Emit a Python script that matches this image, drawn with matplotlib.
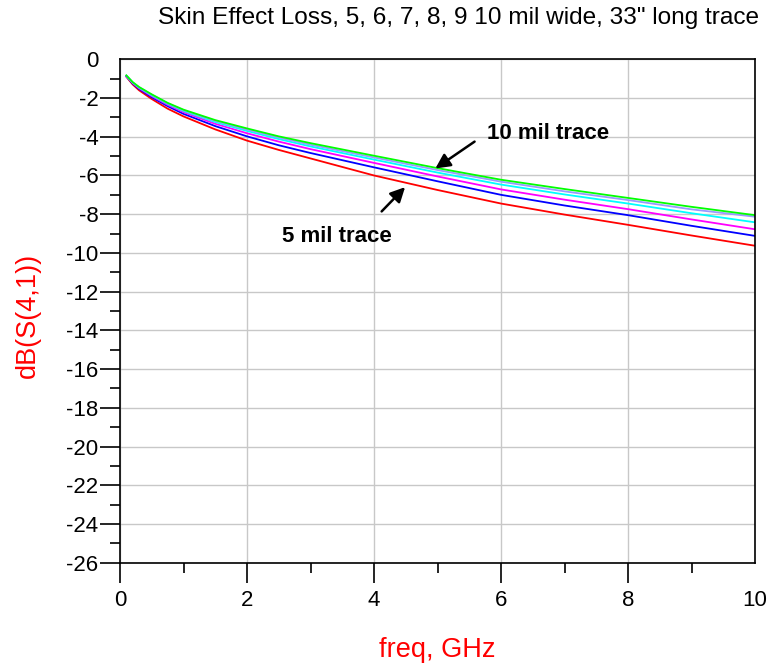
import matplotlib
matplotlib.use('Agg')
import matplotlib.pyplot as plt
from matplotlib.ticker import MultipleLocator

plt.rcParams['font.family'] = ['Liberation Sans', 'DejaVu Sans']

# frequency points (GHz) and loss (dB)
freq = [0.1, 0.2, 0.3, 0.5, 0.75, 1, 1.5, 2, 2.5, 3, 4, 5, 6, 7, 8, 9, 10]
loss_5mil = [-0.9, -1.3, -1.6, -2.05, -2.55, -2.95, -3.62, -4.2, -4.68, -5.12,
             -6.0, -6.75, -7.45, -8.02, -8.55, -9.1, -9.63]
loss_6mil = [-0.88, -1.25, -1.53, -1.96, -2.42, -2.82, -3.45, -3.98, -4.44, -4.84,
             -5.58, -6.3, -7.0, -7.55, -8.05, -8.6, -9.12]
loss_7mil = [-0.86, -1.22, -1.49, -1.9, -2.35, -2.73, -3.33, -3.82, -4.25, -4.64,
             -5.35, -6.05, -6.72, -7.25, -7.74, -8.27, -8.78]
loss_8mil = [-0.85, -1.2, -1.46, -1.86, -2.3, -2.67, -3.24, -3.7, -4.12, -4.5,
             -5.18, -5.85, -6.47, -6.98, -7.45, -7.95, -8.42]
loss_9mil = [-0.84, -1.19, -1.44, -1.83, -2.27, -2.63, -3.18, -3.63, -4.04, -4.41,
             -5.07, -5.72, -6.32, -6.82, -7.27, -7.75, -8.13]
loss_10mil = [-0.83, -1.18, -1.43, -1.81, -2.25, -2.6, -3.14, -3.57, -3.98, -4.33,
              -4.98, -5.62, -6.22, -6.7, -7.16, -7.62, -8.05]

series = [loss_5mil, loss_6mil, loss_7mil, loss_8mil, loss_9mil, loss_10mil]
colors = ['#ff0000', '#0000ff', '#ff00ff', '#00ffff', '#9999ff', '#00ff00']

fig = plt.figure(figsize=(7.7, 6.64), dpi=100)
ax = fig.add_axes([120/770, 1 - 562.7/664, 635/770, 503.4/664])

for vals, c in zip(series, colors):
    ax.plot(freq, vals, color=c, lw=1.3)

ax.set_xlim(0, 10)
ax.set_ylim(-26, 0)
ax.xaxis.set_major_locator(MultipleLocator(2))
ax.xaxis.set_minor_locator(MultipleLocator(1))
ax.yaxis.set_major_locator(MultipleLocator(2))
ax.yaxis.set_minor_locator(MultipleLocator(1))
ax.grid(True, which='major', color='#c8c8c8', lw=1)
ax.set_axisbelow(True)

ax.tick_params(which='major', direction='out', length=14.4, width=1.2,
               labelsize=16, colors='black')
ax.tick_params(axis='x', which='major', pad=5)
ax.tick_params(axis='y', which='major', pad=1)
ax.tick_params(which='minor', direction='out', length=7.2, width=1.2)
for sp in ax.spines.values():
    sp.set_linewidth(1.2)

fig.canvas.draw()
# no tick line at y=0 and x=10
for t in ax.yaxis.get_major_ticks():
    if abs(t.get_loc()) < 1e-6:
        t.tick1line.set_visible(False)
for t in ax.xaxis.get_major_ticks():
    if abs(t.get_loc() - 10) < 1e-6:
        t.tick1line.set_visible(False)
ax.set_yticklabels([f'{int(v)}' for v in ax.get_yticks()])

fig.text(458/770, 1 - 18/664,
         'Skin Effect Loss, 5, 6, 7, 8, 9 10 mil wide, 33" long trace',
         fontsize=17.6, ha='center', va='center')
fig.text(437.5/770, 1 - 650/664, 'freq, GHz', color='red', fontsize=19.5,
         ha='center', va='center')
fig.text(28/770, 1 - 315/664, 'dB(S(4,1))', color='red', fontsize=19.5,
         ha='center', va='center', rotation=90)

arrow = dict(arrowstyle='-|>', color='black', lw=1.8, mutation_scale=22)
ax.annotate('', xy=(4.93, -5.72), xytext=(5.62, -4.17), arrowprops=arrow)
ax.annotate('', xy=(4.52, -6.5), xytext=(4.09, -7.96), arrowprops=arrow)
ax.text(5.78, -3.81, '10 mil trace', fontsize=16, fontweight='bold',
        ha='left', va='center')
ax.text(2.55, -9.13, '5 mil trace', fontsize=16, fontweight='bold',
        ha='left', va='center')

fig.savefig('out.png', dpi=100)
